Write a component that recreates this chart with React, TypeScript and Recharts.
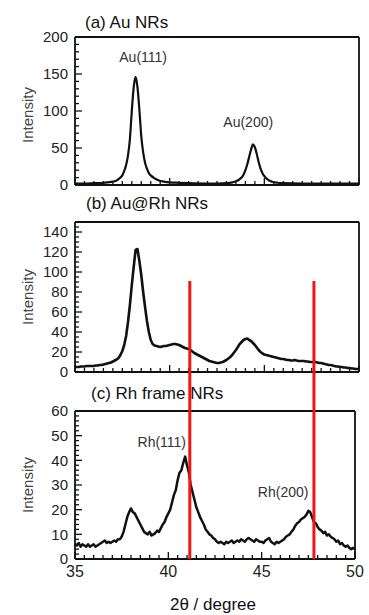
import React from 'react';
import { LineChart, Line, XAxis, YAxis, ReferenceDot } from 'recharts';

const FONT = '"Liberation Sans", Arial, sans-serif';

// (a) Au NRs - smooth pattern, read at uneven steps
const auTheta = [35, 35.5, 36, 36.5, 37, 37.2, 37.4, 37.5, 37.6, 37.7, 37.8, 37.9, 38, 38.1, 38.2, 38.3, 38.4, 38.5, 38.6, 38.7, 38.8, 38.9, 39, 39.2, 39.4, 39.7, 40, 40.5, 41, 42, 42.5, 43, 43.3, 43.5, 43.7, 43.9, 44, 44.1, 44.2, 44.3, 44.4, 44.5, 44.6, 44.7, 44.8, 44.9, 45, 45.2, 45.4, 45.7, 46, 47, 48, 49, 50];
const auIntensity = [2, 2, 2.5, 3, 4.5, 6, 10, 13, 19, 27, 40, 62, 100, 132, 146, 132, 102, 66, 44, 30, 22, 16, 13, 9, 6.5, 4.5, 3.5, 3, 2.5, 2, 2, 2.5, 3.5, 5, 8, 14, 20, 28, 38, 48, 55, 51, 42, 31, 22, 16, 12, 7, 4.5, 3, 2.5, 2, 2, 2, 2];

// 0.1 deg grid shared by (b) and (c)
const twoTheta = [
  35, 35.1, 35.2, 35.3, 35.4, 35.5, 35.6, 35.7, 35.8, 35.9,
  36, 36.1, 36.2, 36.3, 36.4, 36.5, 36.6, 36.7, 36.8, 36.9,
  37, 37.1, 37.2, 37.3, 37.4, 37.5, 37.6, 37.7, 37.8, 37.9,
  38, 38.1, 38.2, 38.3, 38.4, 38.5, 38.6, 38.7, 38.8, 38.9,
  39, 39.1, 39.2, 39.3, 39.4, 39.5, 39.6, 39.7, 39.8, 39.9,
  40, 40.1, 40.2, 40.3, 40.4, 40.5, 40.6, 40.7, 40.8, 40.9,
  41, 41.1, 41.2, 41.3, 41.4, 41.5, 41.6, 41.7, 41.8, 41.9,
  42, 42.1, 42.2, 42.3, 42.4, 42.5, 42.6, 42.7, 42.8, 42.9,
  43, 43.1, 43.2, 43.3, 43.4, 43.5, 43.6, 43.7, 43.8, 43.9,
  44, 44.1, 44.2, 44.3, 44.4, 44.5, 44.6, 44.7, 44.8, 44.9,
  45, 45.1, 45.2, 45.3, 45.4, 45.5, 45.6, 45.7, 45.8, 45.9,
  46, 46.1, 46.2, 46.3, 46.4, 46.5, 46.6, 46.7, 46.8, 46.9,
  47, 47.1, 47.2, 47.3, 47.4, 47.5, 47.6, 47.7, 47.8, 47.9,
  48, 48.1, 48.2, 48.3, 48.4, 48.5, 48.6, 48.7, 48.8, 48.9,
  49, 49.1, 49.2, 49.3, 49.4, 49.5, 49.6, 49.7, 49.8, 49.9,
  50,
];

// (b) Au@Rh NRs
const auRhIntensity = [
  5, 5, 5, 5.5, 5.5, 5.5, 6, 6, 6, 6,
  6, 6.5, 6.5, 7, 7, 7.5, 8, 8.5, 9, 9.5,
  10.5, 11.5, 12.5, 14, 17, 21, 27, 36, 50, 67,
  87, 105, 122, 123, 111, 97, 80, 65, 51, 40,
  32, 28, 26.5, 26, 25.5, 25, 25.5, 26, 26, 26.5,
  27, 27.5, 28, 28, 27.5, 27, 26, 25, 24, 23.5,
  23, 22, 20.5, 19, 18, 17, 16, 15, 14, 13,
  12, 11, 10.5, 10, 9.5, 9, 9, 9.5, 10, 11,
  12, 13.5, 15, 17, 19.5, 22, 25, 28, 30, 32,
  33, 33.5, 32, 31, 29, 27, 24.5, 22, 20, 18.5,
  17.5, 17, 16.5, 16, 15.5, 15, 14.5, 14, 13.5, 13,
  13, 12.5, 12, 12, 11.5, 11.5, 12, 11.5, 11, 11,
  11, 11, 10.5, 10.5, 10, 10, 10, 10, 9.5, 9,
  9, 8.5, 8, 7.5, 7, 7, 6.5, 6, 5.5, 5.5,
  5, 5, 4.5, 4.5, 4, 4, 3.5, 3.5, 3, 3,
  3,
];

// (c) Rh frame NRs
const rhIntensity = [
  6, 5.5, 6.5, 5, 6, 5.5, 5, 6, 5, 5.5,
  6, 5, 5.5, 6, 6.5, 7, 7.5, 6.5, 7, 6.5,
  7, 7.5, 7, 8, 8, 9, 11, 14, 17, 19,
  20.5, 19, 18.5, 17, 15.5, 14, 12.5, 11, 10.5, 10,
  11, 9.5, 10, 10.5, 11.5, 11, 12.5, 14, 15, 17,
  18.5, 20, 23, 26, 28, 32, 35, 36, 39, 41.5,
  38, 35, 30, 27, 24, 21, 19, 17, 15.5, 14,
  12, 11, 10, 9.5, 8.5, 8, 7, 6.5, 7, 6.5,
  6, 7, 6.5, 7, 7.5, 6.5, 7, 7.5, 7, 8,
  7.5, 7, 8, 8.5, 8, 7.5, 7, 8, 7.5, 7,
  7, 6.5, 7.5, 8, 8.5, 7, 6.5, 6, 7, 6.5,
  7, 7.5, 8, 9, 9.5, 10, 11, 12, 13.5, 14.5,
  15, 16, 16.5, 17, 18, 19.5, 19, 17, 15, 14.5,
  13, 12, 11.5, 10.5, 11, 9.5, 10, 9, 8.5, 8,
  7, 7.5, 6, 6.5, 5.5, 5, 5.5, 4.5, 4, 4.5,
  4,
];

// Rh(111) / Rh(200) reference positions
const rhRefLines = [41.15, 47.8];

const auPeaks = [
  { label: 'Au(111)', x: 38.6, y: 173 },
  { label: 'Au(200)', x: 44.15, y: 85 },
];
const rhPeaks = [
  { label: 'Rh(111)', x: 39.65, y: 47.4 },
  { label: 'Rh(200)', x: 46.15, y: 27.2 },
];

const range = (from: number, to: number, step: number) => {
  const out: number[] = [];
  for (let v = from; v <= to + 1e-9; v += step) out.push(Math.round(v * 100) / 100);
  return out;
};

const xTicks = range(35, 50, 0.5);
const aYTicks = range(0, 200, 10);
const bYTicks = range(0, 145, 5);
const cYTicks = range(0, 60, 2);

const isMajor = (v: number, step: number) => Math.abs(v / step - Math.round(v / step)) < 1e-6;

const makeXTick = (showLabel: boolean) => (props: any) => {
  const x = Number(props.x);
  const y = Number(props.y);
  const major = isMajor(props.payload.value, 5);
  return (
    <g>
      <path d={`M${x},${y}V${y - (major ? 7 : 4)}`} stroke="#111" strokeWidth={1.3} fill="none" />
      {showLabel && major && (
        <text x={x} y={y + 18} textAnchor="middle" fontSize={16} fill="#222">
          {props.payload.value}
        </text>
      )}
    </g>
  );
};

const makeYTick = (majorStep: number) => (props: any) => {
  const x = Number(props.x);
  const y = Number(props.y);
  const major = isMajor(props.payload.value, majorStep);
  return (
    <g>
      <path d={`M${x},${y}H${x + (major ? 7 : 4)}`} stroke="#111" strokeWidth={1.3} fill="none" />
      {major && (
        <text x={x - 7} y={y} dy="0.36em" textAnchor="end" fontSize={15} fill="#222">
          {props.payload.value}
        </text>
      )}
    </g>
  );
};

const frameLine = { stroke: '#111', strokeWidth: 1.8 };

type PanelProps = {
  top: number;
  height: number;
  marginTop: number;
  marginRight: number;
  axisHeight: number;
  data: { x: number; y: number }[];
  yMax: number;
  yTicks: number[];
  yMajor: number;
  showXLabels: boolean;
  lineWidth: number;
  curve: 'monotone' | 'linear';
  peaks: { label: string; x: number; y: number }[];
};

function Panel(p: PanelProps) {
  return (
    <div style={{ position: 'absolute', left: 0, top: p.top }}>
      <LineChart
        width={369}
        height={p.height}
        data={p.data}
        margin={{ top: p.marginTop - 1, right: p.marginRight - 1, bottom: 0, left: 0 }}
      >
        <XAxis
          dataKey="x"
          type="number"
          domain={[35, 50]}
          ticks={xTicks}
          interval={0}
          tickSize={0}
          tickMargin={0}
          axisLine={frameLine}
          tickLine={false}
          height={p.axisHeight}
          tick={makeXTick(p.showXLabels)}
        />
        <XAxis
          xAxisId="top"
          orientation="top"
          dataKey="x"
          type="number"
          domain={[35, 50]}
          ticks={[35, 50]}
          axisLine={frameLine}
          tick={false}
          tickLine={false}
          height={1}
        />
        <YAxis
          type="number"
          domain={[0, p.yMax]}
          ticks={p.yTicks}
          interval={0}
          tickSize={0}
          tickMargin={0}
          axisLine={frameLine}
          tickLine={false}
          width={75}
          tick={makeYTick(p.yMajor)}
        />
        <YAxis
          yAxisId="right"
          orientation="right"
          type="number"
          domain={[0, p.yMax]}
          ticks={[0, p.yMax]}
          axisLine={frameLine}
          tick={false}
          tickLine={false}
          width={1}
        />
        <Line
          dataKey="y"
          type={p.curve}
          stroke="#111"
          strokeWidth={p.lineWidth}
          strokeLinejoin="round"
          dot={false}
          isAnimationActive={false}
        />
        {p.peaks.map((pk) => (
          <ReferenceDot
            key={pk.label}
            x={pk.x}
            y={pk.y}
            r={0}
            fill="none"
            stroke="none"
            label={{ value: pk.label, position: 'center', fontSize: 14, fill: '#333' }}
          />
        ))}
      </LineChart>
    </div>
  );
}

const title: React.CSSProperties = { position: 'absolute', fontSize: 17, lineHeight: '17px', color: '#111', whiteSpace: 'nowrap' };
const yLabel: React.CSSProperties = {
  position: 'absolute',
  left: 27,
  fontSize: 15,
  color: '#444',
  whiteSpace: 'nowrap',
  transform: 'translate(-50%, -50%) rotate(-90deg)',
};

export default function App() {
  const aData = auTheta.map((x, i) => ({ x, y: auIntensity[i] }));
  const bData = twoTheta.map((x, i) => ({ x, y: auRhIntensity[i] }));
  const cData = twoTheta.map((x, i) => ({ x, y: rhIntensity[i] }));

  return (
    <div style={{ position: 'absolute', left: 0, top: 0, width: 369, height: 615, background: '#fff', fontFamily: FONT, overflow: 'hidden' }}>
      <Panel top={0} height={200} marginTop={37} marginRight={10} axisHeight={15} data={aData} yMax={200} yTicks={aYTicks} yMajor={50} showXLabels={false} lineWidth={2.2} curve="monotone" peaks={auPeaks} />
      <Panel top={200} height={190} marginTop={22} marginRight={10} axisHeight={18} data={bData} yMax={150} yTicks={bYTicks} yMajor={20} showXLabels={false} lineWidth={2.6} curve="linear" peaks={[]} />
      <Panel top={395} height={220} marginTop={16} marginRight={14} axisHeight={56} data={cData} yMax={60} yTicks={cYTicks} yMajor={10} showXLabels={true} lineWidth={2.5} curve="linear" peaks={rhPeaks} />

      <div style={{ ...title, left: 85, top: 14 }}>(a) Au NRs</div>
      <div style={{ ...title, left: 86, top: 195 }}>(b) Au@Rh NRs</div>
      <div style={{ ...title, left: 91, top: 385 }}>(c) Rh frame NRs</div>

      <div style={{ ...yLabel, top: 115 }}>Intensity</div>
      <div style={{ ...yLabel, top: 297 }}>Intensity</div>
      <div style={{ ...yLabel, top: 485 }}>Intensity</div>

      <div style={{ position: 'absolute', left: 213, top: 605, transform: 'translate(-50%, -50%)', fontSize: 17, color: '#111', whiteSpace: 'nowrap' }}>
        2θ / degree
      </div>

      {/* red guide lines from (b) down through (c), drawn as two-point series on a shared 2θ scale */}
      <div style={{ position: 'absolute', left: 0, top: 0, pointerEvents: 'none' }}>
        <LineChart width={369} height={615} margin={{ top: 281, right: 14, bottom: 56, left: 75 }}>
          <XAxis dataKey="x" type="number" domain={[35, 50]} hide />
          <YAxis type="number" domain={[0, 1]} hide />
          {rhRefLines.map((v) => (
            <Line
              key={v}
              data={[{ x: v, y: 0 }, { x: v, y: 1 }]}
              dataKey="y"
              stroke="#f01414"
              strokeWidth={3}
              dot={false}
              isAnimationActive={false}
            />
          ))}
        </LineChart>
      </div>
    </div>
  );
}
